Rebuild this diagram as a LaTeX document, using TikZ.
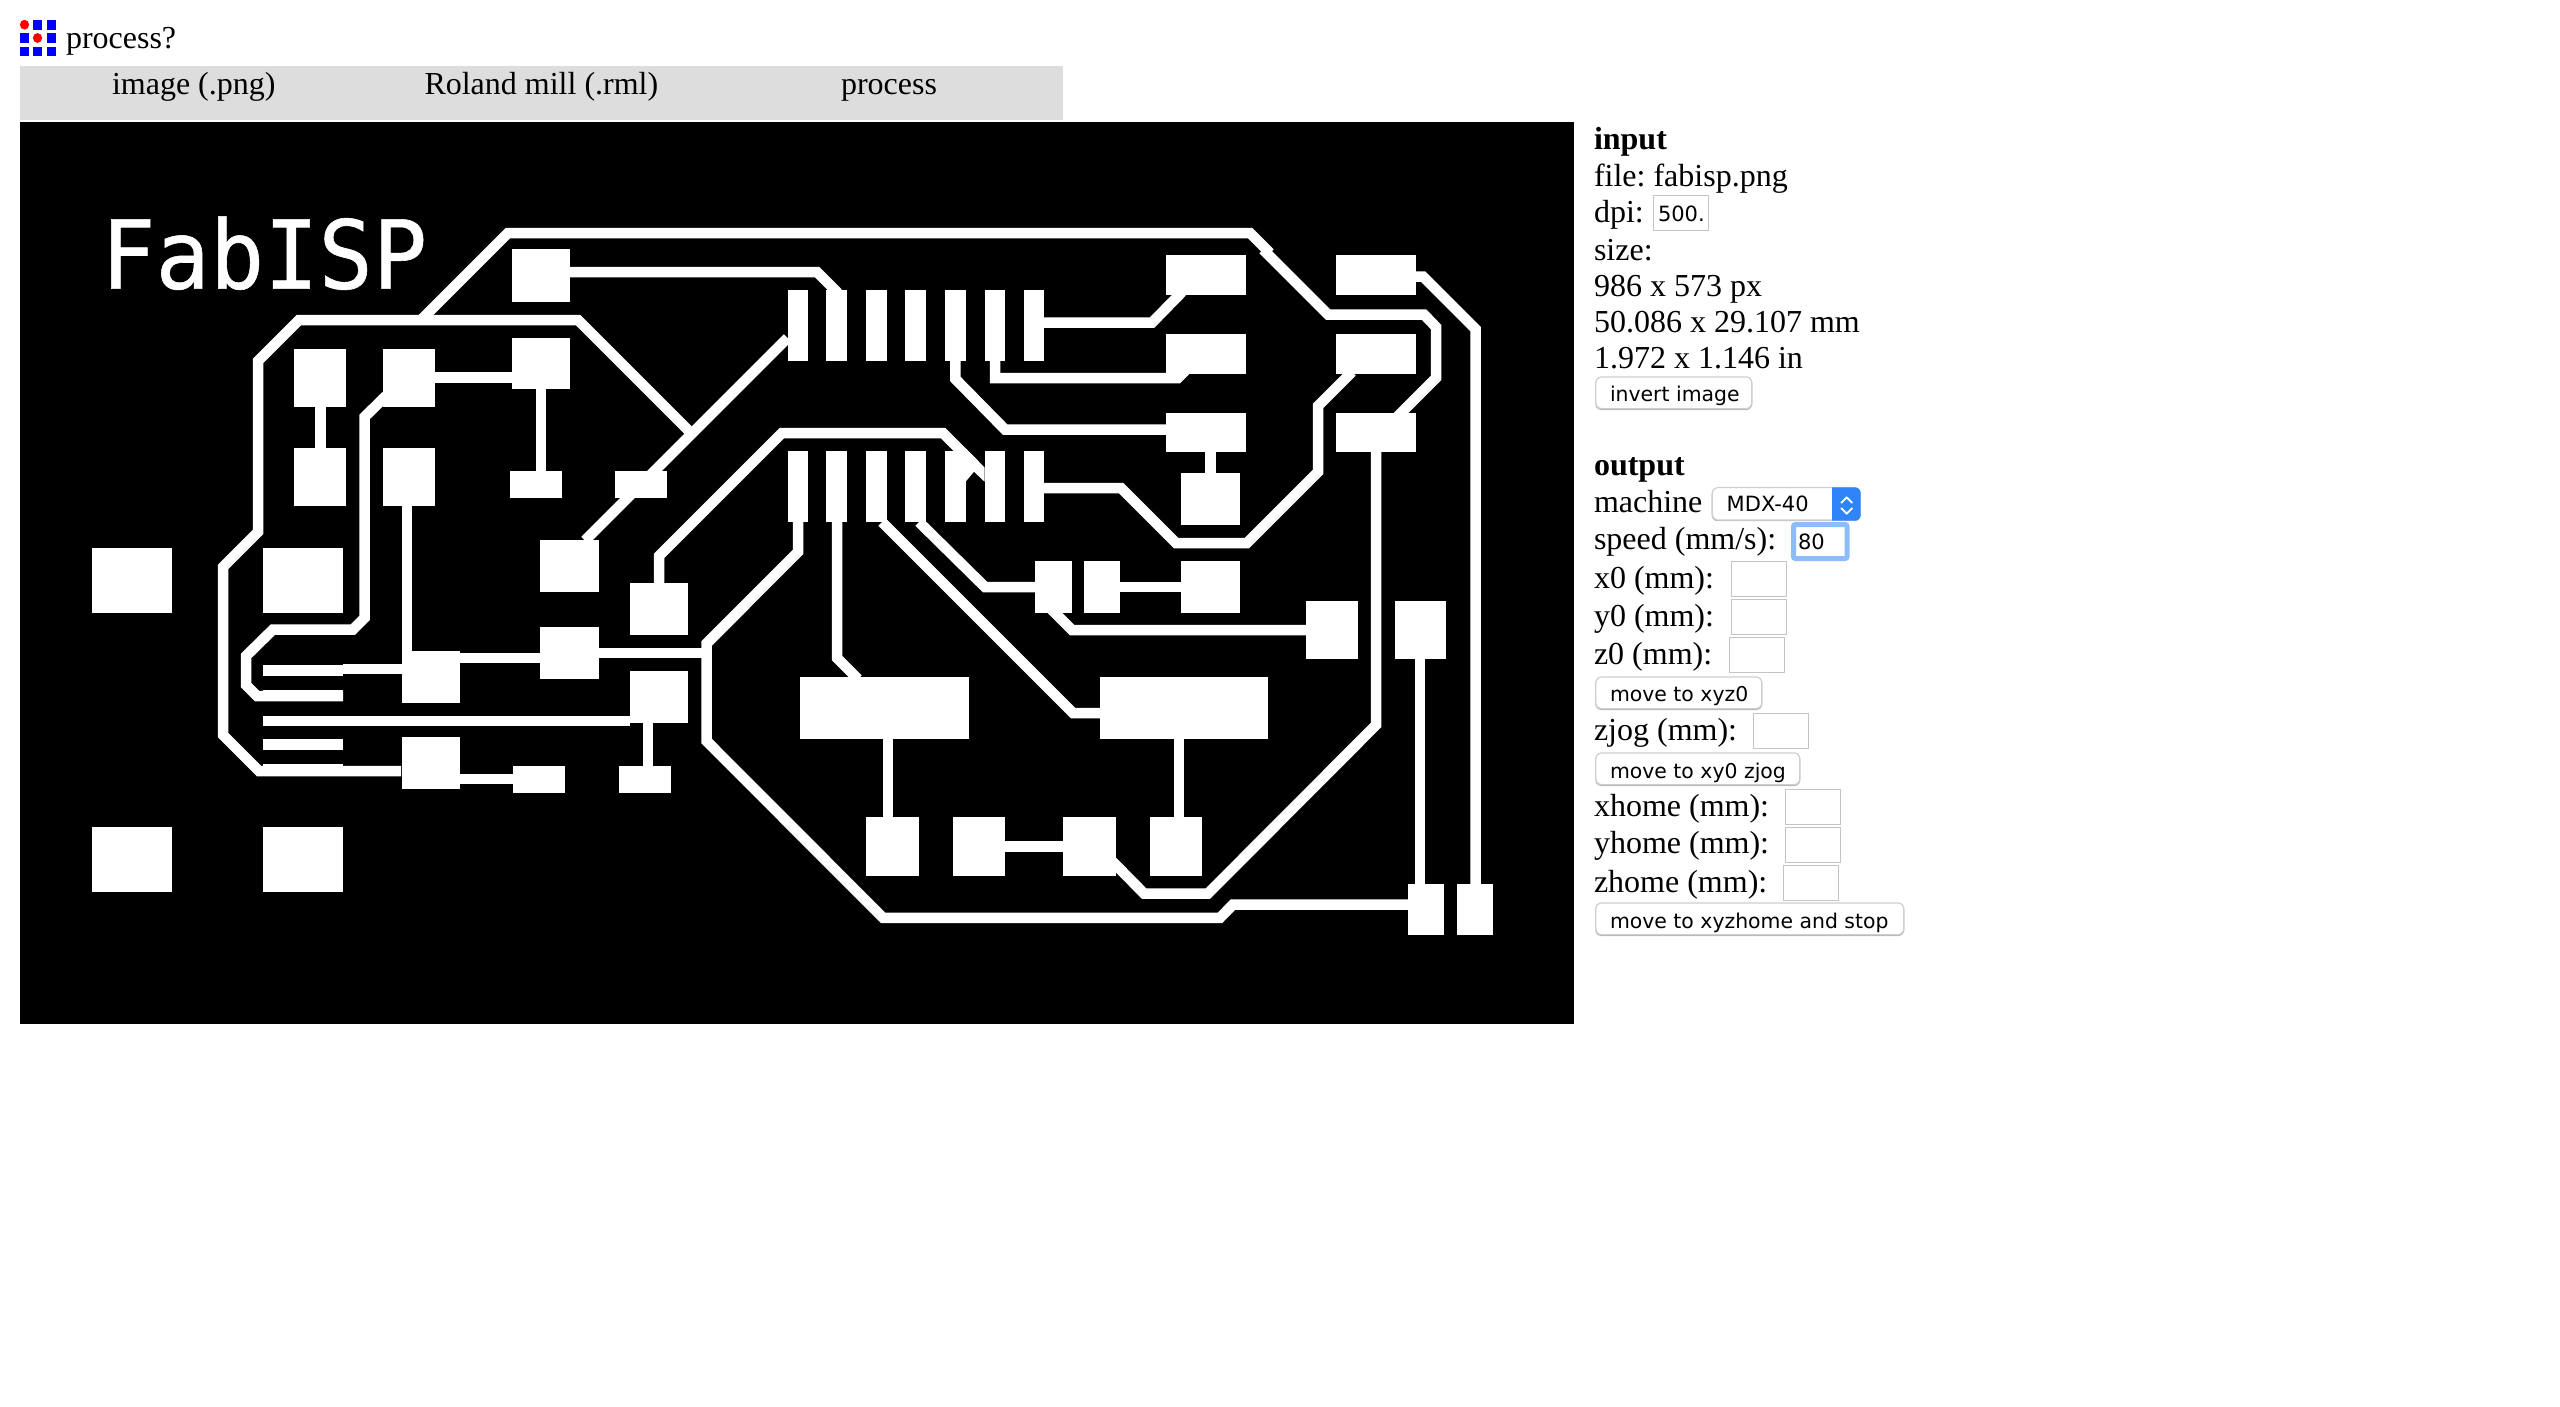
\documentclass[tikz,border=0pt]{standalone}
\usepackage{fontspec}
\setmainfont{Liberation Serif}
\newfontfamily\uifont{DejaVu Sans}
\newfontfamily\silkfont[FakeBold=0.6]{DejaVu Sans Mono}
\newcommand{\padbox}[4]{\fill[white] (#1,#2) rectangle (#3,#4);}
\newcommand{\fieldbox}[4]{\draw[fieldline] (#1,#2) rectangle (#3,#4);}
\definecolor{barbg}{HTML}{DDDDDD}
\definecolor{fieldgray}{HTML}{C4C4C4}
\definecolor{btngray}{HTML}{CFCFCF}
\definecolor{btnshadow}{HTML}{B8B8B8}
\definecolor{glow}{HTML}{8DBDF8}
\definecolor{selblue}{HTML}{2F84F7}
\tikzset{
  pcbtrace/.style={draw=white,line width=10.5pt,line cap=butt,line join=miter},
  txt/.style={anchor=base west,inner sep=0pt,outer sep=0pt,text=black,font=\frenchspacing\fontsize{32}{36}\selectfont},
  uitxt/.style={anchor=base west,inner sep=0pt,outer sep=0pt,text=black,font=\frenchspacing\uifont\fontsize{20.4}{24}\selectfont},
  fieldline/.style={draw=fieldgray,line width=1.4pt,fill=white},
  btn/.style={draw=btngray,line width=1.2pt,fill=white,rounded corners=6pt},
  btnsh/.style={fill=btnshadow,rounded corners=6pt},
}
\begin{document}
\begin{tikzpicture}[x=1pt,y=-1pt]
\useasboundingbox (0,0) rectangle (2560,1406);
\fill[white] (0,0) rectangle (2560,1406);
% favicon
\foreach \cx/\cy in {33/20,47/20,20/33,47/33,20/46.5,33/46.5,47/46.5}{
  \fill[blue] (\cx,\cy) rectangle (\cx+9,\cy+9.5);}
\fill[red] (24.5,24.7) ellipse (4.6 and 4.9);
\fill[red] (37.5,38) ellipse (4.6 and 4.9);
\node[txt] (title) at (66,48.5) {process?};
% menu bar
\fill[barbg] (20,66) rectangle (1063,120);
\node[txt] (menua) at (112,94) {image (.png)};
\node[txt] (menub) at (424.5,94) {Roland mill (.rml)};
\node[txt] (menuc) at (841,94) {process};
% board
\fill[black] (20,122) rectangle (1574,1024);
\node[anchor=base west,inner sep=0pt,text=white,font=\silkfont\fontsize{95}{100}\selectfont,xscale=0.95] (silk) at (101,288.6) {FabISP};
% traces
\draw[pcbtrace] (421,320)--(508,233)--(1250,233)--(1270,253);
\draw[pcbtrace] (1263,249.5)--(1328,314.5)--(1424,314.5)--(1436,327)--(1436,378)--(1395,419);
\draw[pcbtrace] (401,771)--(259,771)--(223,735)--(223,567)--(258,532)--(258,361)--(299,320)--(578,320)--(692,434);
\draw[pcbtrace] (787.5,338)--(585,540.5);
\draw[pcbtrace] (570,272)--(817,272)--(838,293);
\draw[pcbtrace] (1040,322.7)--(1152,322.7)--(1182,292);
\draw[pcbtrace] (995,361)--(995,378)--(1178,378)--(1188,368);
\draw[pcbtrace] (955.4,361)--(955.4,379)--(1005,429.5)--(1166,429.5);
\draw[pcbtrace] (659,583)--(659,556)--(782,433)--(943,433)--(975,465);
\fill[white] (965,448)--(984.5,467.5)--(984.5,481.7)--(974,471.7)--(965.6,481.7)--cycle;
\draw[pcbtrace] (1040,488)--(1121,488)--(1176,543)--(1247,543)--(1318,472)--(1318,406)--(1352,372);
\draw[pcbtrace] (1376,452)--(1376,725)--(1208,893.5)--(1144,893.5)--(1112,861);
\draw[pcbtrace] (837,522)--(837,658)--(858,679);
\draw[pcbtrace] (882,522)--(1073,713)--(1100,713);
\draw[pcbtrace] (919,522)--(985,587)--(1040,587);
\draw[pcbtrace] (1120,587)--(1182,587);
\draw[pcbtrace] (1050,608)--(1072,630)--(1306,630);
\draw[pcbtrace] (1420,659)--(1420,884);
\draw[pcbtrace] (1475.5,884)--(1475.5,329)--(1423,276.5)--(1416,276.5);
\draw[pcbtrace] (798,522)--(798,552)--(706.6,643.5)--(706.6,741)--(883,917.8)--(1220,917.8)--(1233,904.5)--(1408,904.5);
\draw[pcbtrace] (598,653)--(704,653);
\draw[pcbtrace] (888,739)--(888,817);
\draw[pcbtrace] (1179,739)--(1179,817);
\draw[pcbtrace] (1005,846.7)--(1063,846.7);
\draw[pcbtrace] (1210.5,452)--(1210.5,473);
\draw[pcbtrace] (390,392)--(364.5,417)--(364.5,618)--(353,629.5)--(273,629.5)--(246,656)--(246,685)--(257,696)--(343,696);
\draw[pcbtrace] (343,669)--(402,669);
\draw[pcbtrace] (407,506)--(407,651);
\draw[pcbtrace] (460,658)--(540,658);
\draw[pcbtrace] (459,779)--(513,779);
\draw[pcbtrace] (648,723)--(648,766);
\draw[pcbtrace] (262.7,721)--(630,721);
\draw[pcbtrace] (320.4,407)--(320.4,448);
\draw[pcbtrace] (434,377.6)--(512,377.6);
\draw[pcbtrace] (541,389)--(541,472);
% IC pins
\foreach \px/\qx in {787.5/808,826/847,866/886.5,905.4/926,945/965.6,984.5/1005,1023.8/1044}{
  \padbox{\px}{290}{\qx}{361.3}
  \padbox{\px}{451}{\qx}{521.7}
}
% right column pads
\padbox{1166}{255}{1246}{295}
\padbox{1166}{334}{1246}{374}
\padbox{1166}{413}{1246}{452}
\padbox{1336}{255}{1416}{295}
\padbox{1336}{334}{1416}{374}
\padbox{1336}{413}{1416}{452}
\padbox{1181.4}{473}{1240}{525}
% mid-right pads
\padbox{1034.5}{561}{1071.7}{613.3}
\padbox{1083.5}{561}{1120}{613.3}
\padbox{1181.4}{561}{1240}{613.3}
\padbox{1306}{600.7}{1358}{658.7}
\padbox{1394.7}{600.7}{1446}{658.7}
% crystal area
\padbox{800}{677.3}{969}{739}
\padbox{1099.8}{677.3}{1268}{739}
\padbox{865.7}{817.3}{918.5}{876}
\padbox{952.7}{817.3}{1005}{876}
\padbox{1063.3}{817.3}{1115.5}{876}
\padbox{1149.7}{817.3}{1202.4}{876}
\padbox{1408.4}{884}{1444.3}{935.3}
\padbox{1457}{884}{1493}{935.3}
% left pads
\padbox{512}{249}{570}{302}
\padbox{511.7}{337.5}{570}{389.3}
\padbox{382.7}{348.6}{434.7}{407}
\padbox{293.9}{348.6}{346}{407}
\padbox{293.9}{447.5}{346}{506.4}
\padbox{382.7}{447.5}{434.7}{506.4}
\padbox{510}{471.4}{562}{498.2}
\padbox{615}{471.4}{667.3}{498.2}
\padbox{540}{540}{598.5}{592.3}
\padbox{540}{627.3}{598.5}{679.3}
\padbox{630}{583.3}{688}{635.3}
\padbox{630}{671.3}{688}{723.3}
\padbox{401.5}{650.7}{459.7}{702.7}
\padbox{401.5}{737.3}{459.7}{789.3}
\padbox{512.8}{765.7}{565.3}{792.7}
\padbox{619}{765.7}{671}{792.7}
% USB shell and fingers
\padbox{92.3}{548}{172.4}{613}
\padbox{262.7}{548}{342.9}{613}
\padbox{92.3}{827.3}{172.4}{891.7}
\padbox{262.7}{827.3}{342.9}{891.7}
\padbox{262.7}{665}{343}{676}
\padbox{262.7}{690}{343}{701.3}
\padbox{262.7}{739}{343}{750.3}
\padbox{262.7}{764.3}{343}{776}
% right panel
\node[txt,font=\bfseries\fontsize{32}{36}\selectfont] (inhead) at (1594,149) {input};
\node[txt] (filelbl) at (1594,186) {file: fabisp.png};
\node[txt] (dpilbl) at (1594,222) {dpi:};
\node[txt] (sizelbl) at (1594,260) {size:};
\node[txt] (sizepx) at (1594,296) {986 x 573 px};
\node[txt] (sizemm) at (1594,332) {50.086 x 29.107 mm};
\node[txt] (sizein) at (1594,368) {1.972 x 1.146 in};
\node[txt,font=\bfseries\fontsize{32}{36}\selectfont] (outhead) at (1594,475.5) {output};
\node[txt] (machlbl) at (1594,512.5) {machine};
\node[txt] (speedlbl) at (1594,549.5) {speed (mm/s):};
\node[txt] (x0lbl) at (1594,588) {x0 (mm):};
\node[txt] (y0lbl) at (1594,626) {y0 (mm):};
\node[txt] (z0lbl) at (1594,664) {z0 (mm):};
\node[txt] (zjoglbl) at (1594,740) {zjog (mm):};
\node[txt] (xhomelbl) at (1594,816) {xhome (mm):};
\node[txt] (yhomelbl) at (1594,853.5) {yhome (mm):};
\node[txt] (zhomelbl) at (1594,892) {zhome (mm):};
% fields
\fieldbox{1653.3}{195.3}{1708.7}{230.7}
\node[uitxt,font=\uifont\fontsize{21}{24}\selectfont] (dpival) at (1658,221.7) {500.};
\fieldbox{1731.3}{561.7}{1786.7}{596.7}
\fieldbox{1731.3}{599.3}{1786.7}{634.7}
\fieldbox{1729.3}{637.3}{1784.7}{672.3}
\fieldbox{1753.3}{713.3}{1808.7}{748.3}
\fieldbox{1785.3}{789.3}{1840.7}{824.3}
\fieldbox{1785.3}{827.3}{1840.7}{862.3}
\fieldbox{1783.3}{865.3}{1838.7}{900.3}
% focused field
\draw[draw=glow,line width=5pt,fill=white,rounded corners=2pt] (1793.5,524.5) rectangle (1847,558.5);
\node[uitxt,font=\uifont\fontsize{21}{24}\selectfont] (speedval) at (1798,549) {80};
% select
\fill[btnsh] (1711.7,488) rectangle (1860.7,521.2);
\draw[btn] (1712.3,487.5) rectangle (1860,520);
\begin{scope}
\clip (1832,480) rectangle (1870,530);
\fill[selblue,rounded corners=6pt] (1815,487.3) rectangle (1860.7,520.7);
\end{scope}
\draw[white,line width=1.8pt] (1841,503) -- (1846.7,497.5) -- (1852.4,503);
\draw[white,line width=1.8pt] (1841,508) -- (1846.7,513.5) -- (1852.4,508);
\node[uitxt,font=\uifont\fontsize{21}{24}\selectfont] (selval) at (1726.7,511.7) {MDX-40};
% buttons
\fill[btnsh] (1595.3,377.5) rectangle (1752.3,410);
\draw[btn] (1595.8,376.9) rectangle (1751.8,408.6);
\node[uitxt] (btninv) at (1610,401.7) {invert image};
\fill[btnsh] (1595.3,677.5) rectangle (1762.3,710);
\draw[btn] (1595.8,676.9) rectangle (1761.8,708.6);
\node[uitxt] (btnxyz) at (1610,701.7) {move to xyz0};
\fill[btnsh] (1595.3,753.5) rectangle (1800.3,786);
\draw[btn] (1595.8,752.9) rectangle (1799.8,784.6);
\node[uitxt] (btnjog) at (1610,778) {move to xy0 zjog};
\fill[btnsh] (1595.3,903.5) rectangle (1904.3,936);
\draw[btn] (1595.8,902.9) rectangle (1903.8,934.6);
\node[uitxt] (btnhome) at (1610,928) {move to xyzhome and stop};
\end{tikzpicture}
\end{document}
